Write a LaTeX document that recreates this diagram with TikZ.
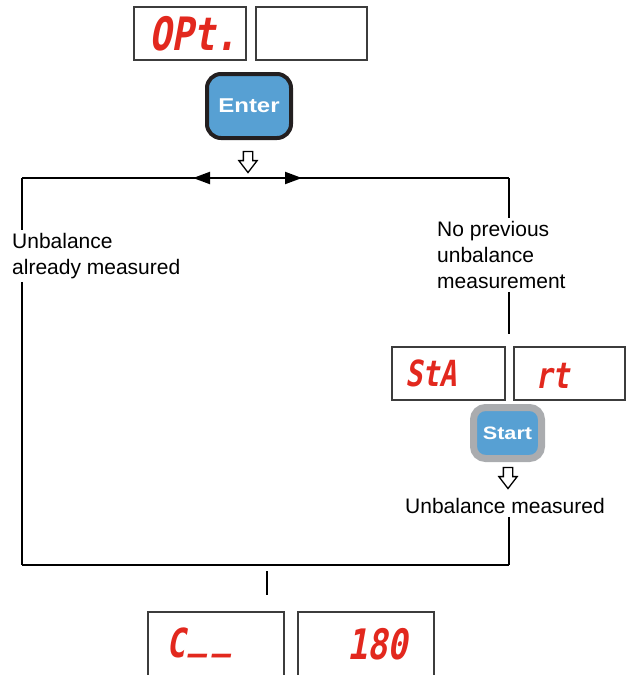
\documentclass[tikz,border=0pt]{standalone}
\usepackage{fontspec}
\setmainfont{Liberation Sans}
\newfontfamily\segfont{DejaVu Sans Mono Bold}[FakeSlant=0.18,FakeStretch=0.8]
\newfontfamily\keyfont{Liberation Sans Bold}[FakeStretch=1.2]
\usepackage{tikz}
\usetikzlibrary{shapes.arrows, arrows.meta, positioning, calc}
\definecolor{segred}{RGB}{226,40,30}
\definecolor{boxgray}{RGB}{60,60,60}
\definecolor{keyblue}{RGB}{87,160,211}
\definecolor{keydark}{RGB}{35,31,32}
\definecolor{keygray}{RGB}{170,172,175}
\tikzset{
  dispbox/.style={rectangle, draw=boxgray, line width=1.4pt, inner sep=0pt},
  segtext/.style={text=segred, font=\segfont\fontsize{#1}{#1}\selectfont, inner sep=0pt},
  enterkey/.style={rectangle, draw=keydark, fill=keyblue, line width=4pt,
    rounded corners=14pt, minimum width=84pt, minimum height=64pt,
    text=white, font=\keyfont\fontsize{20}{20}\selectfont},
  startkey/.style={rectangle, draw=keygray, fill=keyblue, line width=7pt,
    rounded corners=12pt, minimum width=68pt, minimum height=51pt,
    text=white, font=\keyfont\fontsize{18}{18}\selectfont},
  downarrow/.style={single arrow, draw=black, fill=white, line width=1.3pt,
    shape border rotate=270, minimum height=21pt, minimum width=17pt,
    inner sep=4pt, single arrow head extend=4.5pt, single arrow tip angle=75},
  lbl/.style={font=\fontsize{21}{26}\selectfont, align=left, inner sep=3pt},
  conn/.style={line width=1.3pt, color=black}
}
\begin{document}
\begin{tikzpicture}[x=1pt, y=-1pt]
  \clip (0,0) rectangle (626,675);
  % option display and Enter
  \node[dispbox, minimum width=112pt, minimum height=53pt] (optL) at (190,33.5) {};
  \node[dispbox, minimum width=111pt, minimum height=53pt] (optR) at (311.5,33.5) {};
  \node[segtext=46, anchor=base east] (opt) at (238,50) {OPt.};
  \node[enterkey] (enter) at (249,106) {Enter};
  \node[downarrow] (arr1) at (248,159) {};

  % branch line
  \coordinate (tl) at (22,178);
  \coordinate (tr) at (509,178);
  \coordinate (al) at (193,178);
  \coordinate (ar) at (302,178);
  \draw[conn] (tl) -- (tr);
  \draw[line width=2pt, {Triangle[length=17pt,width=12pt]}-{Triangle[length=17pt,width=12pt]}] (al) -- (ar);

  % left branch
  \node[lbl, anchor=north west] (lmeas) at (9,230) {Unbalance\\already measured};
  \coordinate (bl) at (22,565);
  \draw[conn] (tl) -- (tl |- lmeas.north);
  \draw[conn] (lmeas.south -| tl) -- (bl);

  % right branch
  \node[lbl, anchor=north west] (rnone) at (434,218) {No previous\\unbalance\\measurement};
  \node[dispbox, minimum width=113pt, minimum height=53pt] (staL) at (448.5,373.5) {};
  \node[dispbox, minimum width=111pt, minimum height=53pt] (staR) at (569.5,373.5) {};
  \node[segtext=36, anchor=base west] (sta) at (405,386) {StA};
  \node[segtext=36, anchor=base west] (rt) at (535,388) {rt};
  \draw[conn] (tr) -- (tr |- rnone.north);
  \draw[conn] (rnone.south -| tr) -- ([yshift=12pt]staL.north -| tr);
  \node[startkey] (start) at (507.5,433) {Start};
  \node[downarrow] (arr2) at (508,475) {};
  \node[lbl, anchor=north] (meas) at (505,495) {Unbalance measured};
  \coordinate (br) at (509,565);
  \draw[conn] (meas.south -| tr) -- (br);

  % join
  \draw[conn] (bl) -- (br);
  \coordinate (mtop) at (267,571);
  \coordinate (mbot) at (267,595);
  \draw[conn] (mtop) -- (mbot);

  % correction display
  \node[dispbox, minimum width=136pt, minimum height=80pt] (cL) at (216,652) {};
  \node[dispbox, minimum width=136pt, minimum height=80pt] (cR) at (366,652) {};
  \node[segtext=40, anchor=base west] (corr) at (166,657) {C\kern4pt\raisebox{0.22em}{\_\kern5pt\_}};
  \node[segtext=42, anchor=base east] (deg) at (408,659) {180};
\end{tikzpicture}
\end{document}
